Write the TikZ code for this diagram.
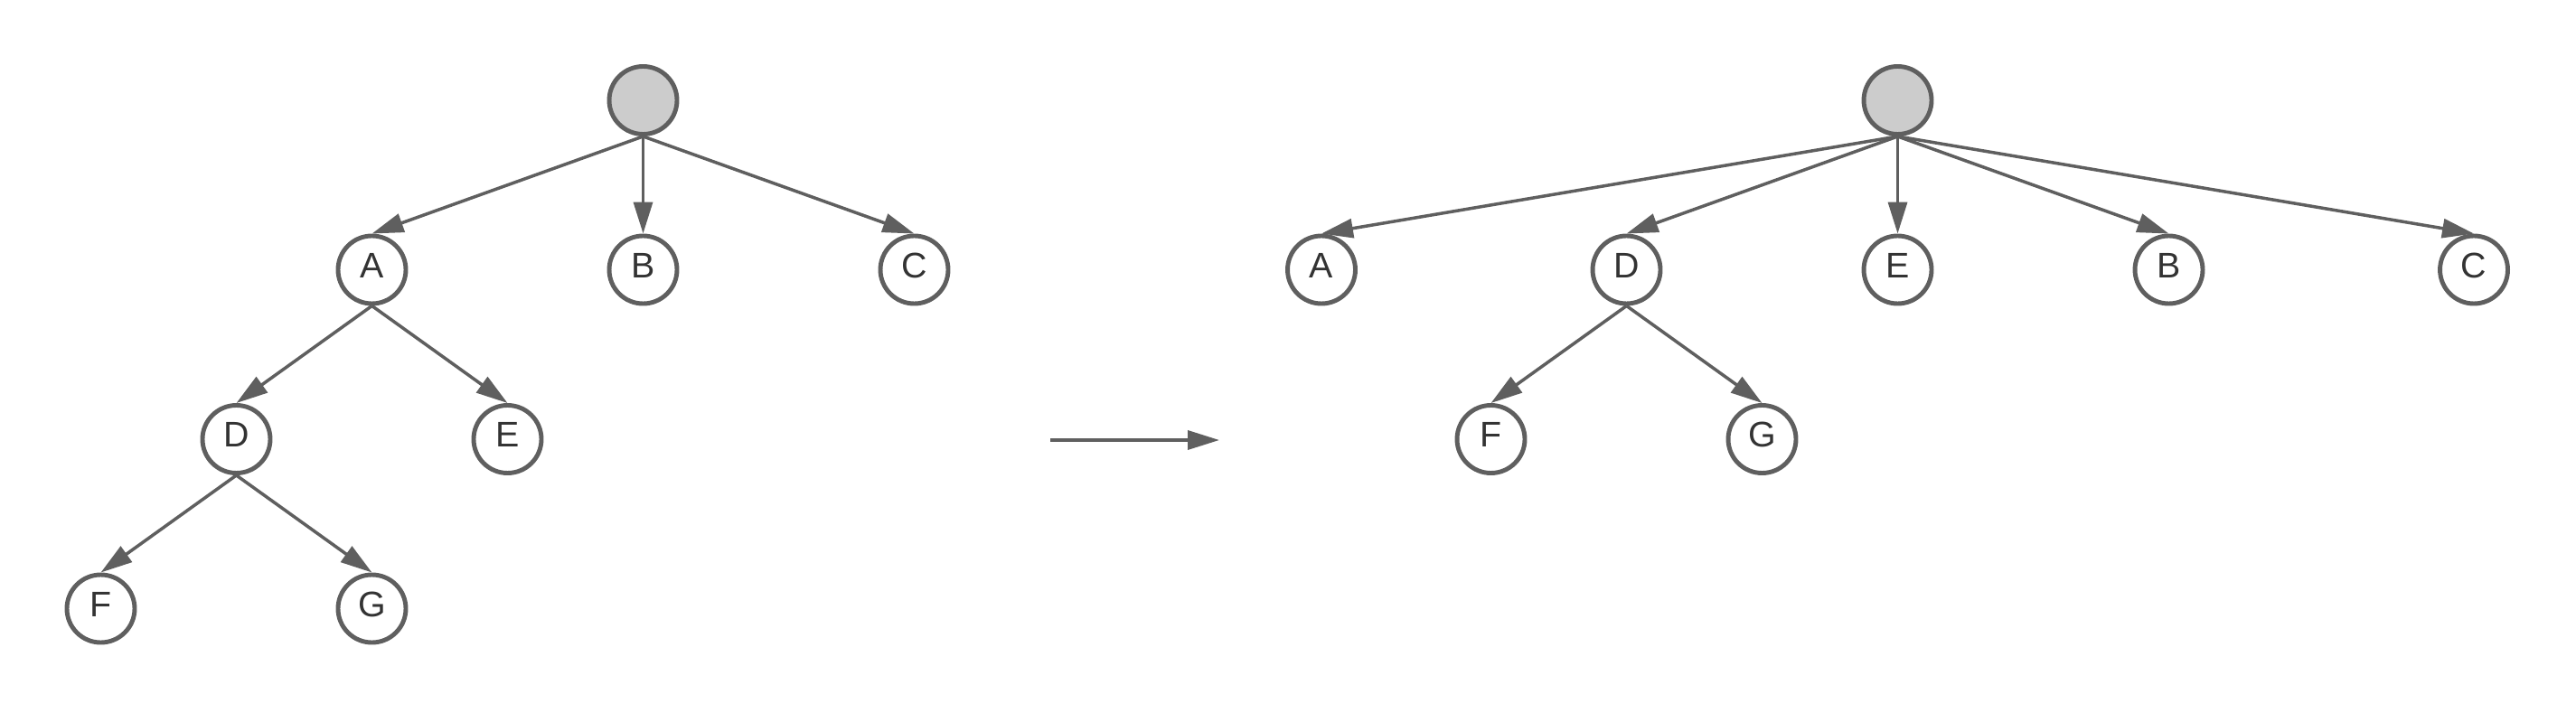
\documentclass[tikz,border=0pt]{standalone}
\usepackage{fontspec}
\setmainfont{Liberation Sans}
\usetikzlibrary{arrows.meta,positioning}
\definecolor{edgegray}{HTML}{5F5F5F}
\definecolor{rootgray}{HTML}{CCCCCC}
\definecolor{labelgray}{HTML}{333333}
\tikzset{
	vertex/.style={
		circle,
		draw=edgegray,
		line width=1.4pt,
		fill=white,
		minimum size=7.5mm,
		inner sep=0pt,
		text depth=1mm,
		text=labelgray,
		font=\fontsize{11.2pt}{13pt}\selectfont
	},
	rootvertex/.style={
		vertex,
		fill=rootgray
	},
	link/.style={
		->,
		draw=edgegray,
		line width=1pt
	}
}

\begin{document}
\begin{tikzpicture}[node distance=1.875cm and 1.5cm,on grid,>={Triangle[length=3.5mm,width=2.1mm]}]
		\useasboundingbox (0,0) rectangle (28.5,7.88);
		% tree before
		\node [rootvertex] (root) at (7.115,6.77) {};
		\node [vertex] (a) [below left=1.875cm and 3cm of root] {A};
		\node [vertex] (b) [below=of root] {B};
		\node [vertex] (c) [below right=1.875cm and 3cm of root] {C};
		\node [vertex] (d) [below left=of a] {D};
		\node [vertex] (e) [below right=of a] {E};
		\node [vertex] (f) [below left=of d] {F};
		\node [vertex] (g) [below right=of d] {G};
		\draw [link] (root.south) -- (a.north);
		\draw [link] (root.south) -- (b.north);
		\draw [link] (root.south) -- (c.north);
		\draw [link] (a.south) -- (d.north);
		\draw [link] (a.south) -- (e.north);
		\draw [link] (d.south) -- (f.north);
		\draw [link] (d.south) -- (g.north);
		% arrow in between
		\coordinate (from) at (11.62,3.01);
		\coordinate (to) at (13.49,3.01);
		\draw [link] (from) -- (to);
		% tree after
		\node [rootvertex] (root2) at (20.995,6.77) {};
		\node [vertex] (a2) [below left=1.875cm and 6.375cm of root2] {A};
		\node [vertex] (d2) [below left=1.875cm and 3cm of root2] {D};
		\node [vertex] (e2) [below=of root2] {E};
		\node [vertex] (b2) [below right=1.875cm and 3cm of root2] {B};
		\node [vertex] (c2) [below right=1.875cm and 6.375cm of root2] {C};
		\node [vertex] (f2) [below left=of d2] {F};
		\node [vertex] (g2) [below right=of d2] {G};
		\draw [link] (root2.south) -- (a2.north);
		\draw [link] (root2.south) -- (d2.north);
		\draw [link] (root2.south) -- (e2.north);
		\draw [link] (root2.south) -- (b2.north);
		\draw [link] (root2.south) -- (c2.north);
		\draw [link] (d2.south) -- (f2.north);
		\draw [link] (d2.south) -- (g2.north);
\end{tikzpicture}
\end{document}
